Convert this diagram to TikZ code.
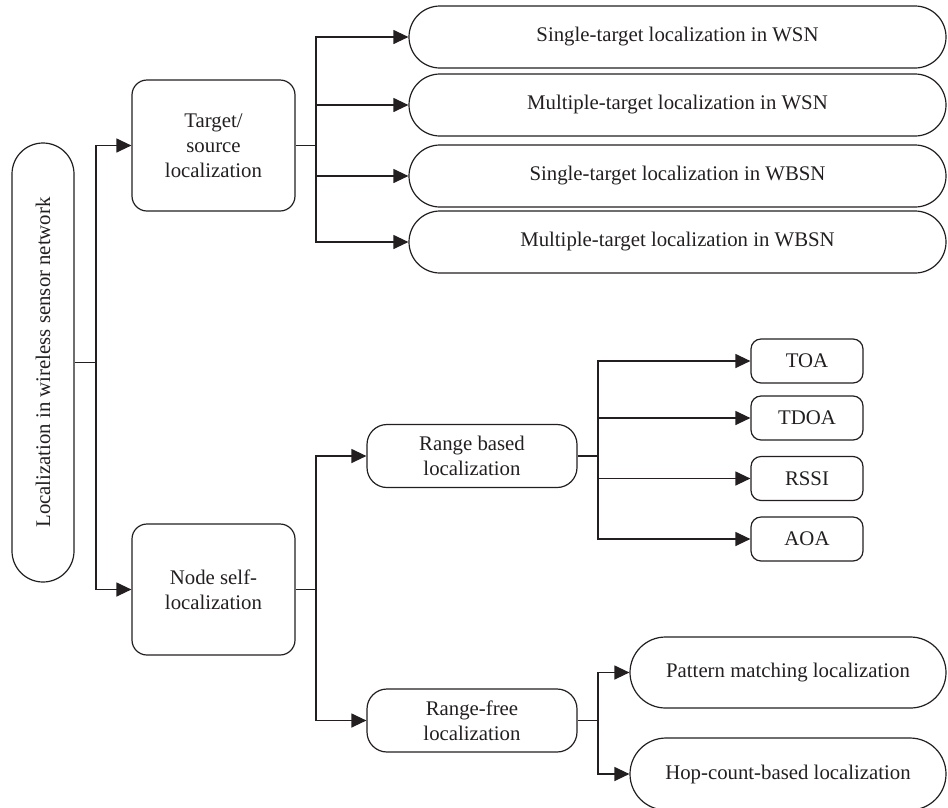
\documentclass[tikz,border=0pt]{standalone}
\usepackage{fontspec}
\setmainfont{Liberation Serif}
\usetikzlibrary{shapes.misc,arrows.meta}
\definecolor{ink}{RGB}{35,31,32}

\tikzset{
    box/.style={draw=ink, line width=1.2pt, align=center, inner sep=0pt},
    pill/.style={draw=ink, line width=1.2pt, rounded rectangle, inner sep=0pt},
    link/.style={draw=ink, line width=1.2pt},
    arr/.style={link, -{Triangle[length=15pt,width=14pt]}}
}

\begin{document}
\begin{tikzpicture}[x=1pt, y=-1pt, font=\fontsize{20.8}{25}\selectfont, text=ink]
    \useasboundingbox (0, 0) rectangle (948, 807);

    \node[pill, rotate=90, minimum width=439pt, minimum height=62pt] (root) at (43, 362.5)
        {Localization in wireless sensor network};

    \node[box, rounded corners=15pt, minimum width=163pt, minimum height=131pt] (target) at (213.5, 145.5)
        {Target/\\source\\localization};
    \node[box, rounded corners=15pt, minimum width=163pt, minimum height=131pt] (self) at (213.5, 589.5)
        {Node self-\\localization};

    \foreach[count=\i] \ypos/\txt in {37/Single-target localization in WSN,
                                      105/Multiple-target localization in WSN,
                                      176/Single-target localization in WBSN,
                                      242/Multiple-target localization in WBSN}{
        \node[pill, minimum width=537pt, minimum height=62pt] (t\i) at (677.5, \ypos) {\txt};
    }

    \node[box, rounded corners=20pt, minimum width=210pt, minimum height=63pt] (range) at (472, 456)
        {Range based\\localization};
    \node[box, rounded corners=20pt, minimum width=210pt, minimum height=63pt] (free) at (472, 720.5)
        {Range-free\\localization};

    \foreach[count=\i] \ypos/\txt in {361/TOA, 418/TDOA, 478.5/RSSI, 539/AOA}{
        \node[box, rounded corners=10pt, minimum width=112pt, minimum height=44pt] (r\i) at (807, \ypos) {\txt};
    }

    \node[pill, minimum width=316pt, minimum height=71pt] (pattern) at (788, 672.5)
        {Pattern matching localization};
    \node[pill, minimum width=316pt, minimum height=72pt] (hop) at (788, 774)
        {Hop-count-based localization};

    \coordinate (rootfork) at (96, 362.5);
    \coordinate (tfork) at (316, 145.5);
    \coordinate (sfork) at (316, 589.5);
    \coordinate (rfork) at (598, 456);
    \coordinate (ffork) at (598, 720.5);

    \draw[link] (root) -- (rootfork);
    \draw[arr] (rootfork) |- (target.west);
    \draw[arr] (rootfork) |- (self.west);

    \draw[link] (target.east) -- (tfork);
    \foreach \i in {1,...,4}{
        \draw[arr] (tfork) |- (t\i.west);
    }

    \draw[link] (self.east) -- (sfork);
    \draw[arr] (sfork) |- (range.west);
    \draw[arr] (sfork) |- (free.west);

    \draw[link] (range.east) -- (rfork);
    \foreach \i in {1,...,4}{
        \draw[arr] (rfork) |- (r\i.west);
    }

    \draw[link] (free.east) -- (ffork);
    \draw[arr] (ffork) |- (pattern.west);
    \draw[arr] (ffork) |- (hop.west);
\end{tikzpicture}
\end{document}
